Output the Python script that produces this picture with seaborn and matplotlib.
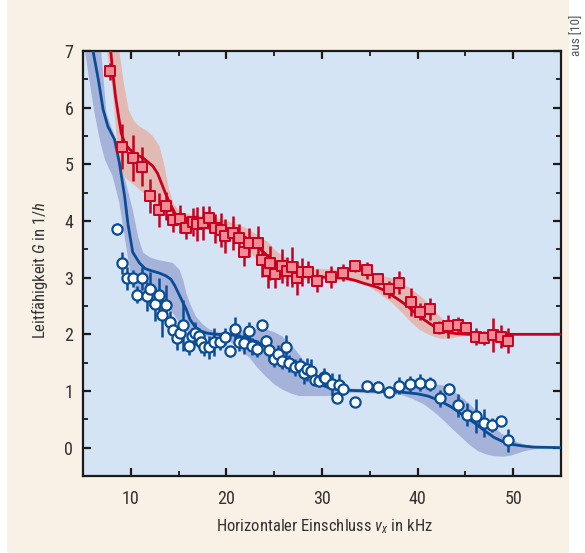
import numpy as np
import pandas as pd
import matplotlib
matplotlib.use("Agg")
import matplotlib.pyplot as plt
import seaborn as sns
from matplotlib import font_manager as fm
from matplotlib.patches import Rectangle

# ---------------- data ----------------
# red: measured squares (x in kHz, G, error)
red_x = [7.87, 9.1, 10.2, 11.2, 12.06, 12.9, 13.7, 14.4, 15.1, 15.8, 16.5, 16.95, 17.6, 18.2, 18.8,
         19.4, 19.9, 20.7, 21.3, 21.8, 22.4, 23.3, 23.7, 24.4, 24.6, 25.1, 25.8, 26.3, 26.9, 27.4,
         27.9, 28.5, 29.5, 30.9, 32.2, 33.5, 34.7, 35.9, 37.0, 38.1, 39.3, 40.3, 41.3, 42.2, 43.2,
         44.2, 45.1, 46.1, 46.9, 47.9, 48.7, 49.5]
red_y = [6.64, 5.31, 5.11, 4.96, 4.45, 4.20, 4.27, 4.01, 4.03, 3.88, 3.98, 3.94, 3.97, 4.06, 3.87,
         3.85, 3.73, 3.78, 3.70, 3.45, 3.62, 3.62, 3.32, 3.11, 3.26, 3.07, 3.20, 3.11, 3.19, 3.00,
         3.10, 3.10, 2.95, 3.01, 3.09, 3.20, 3.13, 2.97, 2.80, 2.91, 2.57, 2.40, 2.45, 2.12, 2.14,
         2.16, 2.12, 1.96, 1.94, 1.99, 1.96, 1.89]
red_err = [0.15, 0.40, 0.40, 0.35, 0.30, 0.30, 0.25, 0.20, 0.25, 0.20, 0.25, 0.30, 0.30, 0.20, 0.25,
           0.30, 0.30, 0.30, 0.25, 0.25, 0.25, 0.30, 0.30, 0.30, 0.30, 0.25, 0.30, 0.25, 0.35, 0.30,
           0.25, 0.20, 0.20, 0.20, 0.15, 0.10, 0.15, 0.10, 0.15, 0.20, 0.25, 0.15, 0.20, 0.12, 0.20,
           0.15, 0.10, 0.15, 0.12, 0.30, 0.20, 0.22]

# blue: measured circles
blue_x = [8.55, 9.1, 9.6, 10.2, 10.7, 11.2, 11.7, 12.06, 12.5, 12.9, 13.3, 13.7, 14.1, 14.4, 14.8,
          15.1, 15.5, 16.05, 16.4, 16.7, 17.1, 17.3, 17.7, 18.2, 18.7, 19.3, 19.9, 20.4, 20.9, 21.3,
          21.8, 22.4, 22.7, 23.2, 23.7, 24.1, 24.5, 25.0, 25.4, 25.8, 26.2, 26.6, 27.2, 27.7, 28.1,
          28.4, 28.8, 29.3, 29.7, 30.2, 30.3, 31.0, 31.8, 32.2, 31.6, 33.5, 34.7, 35.9, 37.0, 38.1,
          39.2, 40.3, 41.3, 42.3, 43.3, 44.2, 45.2, 46.1, 46.9, 47.8, 48.7, 49.5]
blue_y = [3.86, 3.26, 2.99, 2.99, 2.70, 2.99, 2.67, 2.80, 2.53, 2.69, 2.35, 2.52, 2.22, 2.07, 1.93,
          2.03, 2.16, 1.79, 1.97, 2.02, 1.97, 1.87, 1.77, 1.77, 1.86, 1.87, 1.96, 1.70, 2.10, 1.86,
          1.85, 2.06, 1.79, 1.75, 2.16, 1.88, 1.73, 1.57, 1.66, 1.53, 1.78, 1.49, 1.42, 1.44, 1.32,
          1.38, 1.36, 1.20, 1.17, 1.25, 1.23, 1.12, 1.10, 1.03, 0.88, 0.81, 1.08, 1.07, 0.98, 1.09,
          1.12, 1.15, 1.12, 0.87, 1.03, 0.75, 0.58, 0.56, 0.44, 0.40, 0.47, 0.13]
blue_err = [0.10, 0.20, 0.20, 0.15, 0.15, 0.20, 0.25, 0.30, 0.30, 0.30, 0.40, 0.35, 0.20, 0.20, 0.20,
            0.15, 0.45, 0.15, 0.15, 0.20, 0.15, 0.20, 0.15, 0.20, 0.25, 0.15, 0.15, 0.10, 0.20, 0.15,
            0.20, 0.15, 0.15, 0.15, 0.10, 0.10, 0.20, 0.15, 0.15, 0.15, 0.20, 0.15, 0.15, 0.15, 0.20,
            0.20, 0.20, 0.10, 0.10, 0.15, 0.10, 0.20, 0.20, 0.10, 0.10, 0.05, 0.10, 0.10, 0.10, 0.15,
            0.15, 0.15, 0.12, 0.15, 0.10, 0.20, 0.20, 0.30, 0.25, 0.12, 0.05, 0.20]

# red theory curve
red_curve_x = [7.6, 7.9, 8.1, 8.4, 8.66, 9.0, 9.4, 9.9, 10.5, 11.3, 12.3, 12.8, 13.2, 13.6, 13.9,
               14.3, 14.6, 15.0, 15.8, 16.5, 17.5, 18.5, 19.5, 20.5, 21.3, 22.0, 22.8, 23.7, 24.4,
               25.0, 25.7, 26.4, 27.2, 28.0, 29.0, 30.0, 31.4, 32.5, 33.5, 34.2, 35.0, 35.8, 36.6,
               37.4, 38.2, 39.0, 39.8, 40.5, 41.1, 41.8, 42.5, 43.3, 44.2, 45.3, 55.0]
red_curve_y = [7.4, 7.0, 6.64, 6.2, 5.91, 5.55, 5.36, 5.26, 5.18, 5.11, 4.97, 4.84, 4.67, 4.50, 4.38,
               4.24, 4.14, 4.06, 4.00, 3.97, 3.95, 3.94, 3.90, 3.84, 3.79, 3.71, 3.60, 3.48, 3.37,
               3.28, 3.20, 3.13, 3.07, 3.04, 3.02, 3.01, 3.00, 2.99, 2.95, 2.91, 2.87, 2.83, 2.77,
               2.68, 2.59, 2.49, 2.37, 2.28, 2.21, 2.13, 2.07, 2.03, 2.01, 2.00, 2.00]
# red uncertainty band
red_up_x = [7.6, 8.8, 9.3, 9.8, 10.4, 10.9, 11.6, 12.3, 13.0, 13.5, 14.0, 14.5, 15.1, 16.0, 17.0,
            18.0, 19.0, 20.0, 21.0, 22.0, 23.0, 24.4, 25.2, 26.2, 27.0, 27.9, 29.0, 30.5, 32.4,
            34.0, 35.9, 37.2, 38.3, 39.5, 40.7, 41.6, 42.5, 43.3, 44.2, 45.2, 46.0, 47.5, 48.5, 55.0]
red_up_y = [7.6, 7.0, 6.4, 5.95, 5.75, 5.67, 5.60, 5.50, 5.32, 5.00, 4.56, 4.30, 4.17, 4.12, 4.10,
            4.08, 4.05, 4.00, 3.95, 3.88, 3.78, 3.62, 3.47, 3.35, 3.26, 3.20, 3.16, 3.15, 3.14,
            3.12, 3.06, 2.99, 2.91, 2.78, 2.62, 2.45, 2.29, 2.17, 2.09, 2.05, 2.04, 2.02, 2.00, 2.00]
red_lo_x = [7.2, 7.6, 8.1, 8.5, 8.8, 9.5, 10.6, 11.6, 12.7, 13.4, 14.0, 15.0, 16.0, 17.0, 18.0,
            19.0, 20.0, 21.0, 22.0, 23.0, 24.1, 25.0, 26.0, 27.0, 28.0, 29.0, 30.5, 32.0, 33.5,
            34.8, 36.0, 37.3, 38.4, 39.4, 40.2, 41.1, 42.0, 42.5, 43.5, 44.6, 46.0, 47.5, 55.0]
red_lo_y = [7.4, 6.9, 6.32, 5.5, 4.9, 4.75, 4.6, 4.45, 4.26, 4.12, 4.03, 3.93, 3.88, 3.86, 3.84,
            3.80, 3.74, 3.65, 3.52, 3.35, 3.14, 3.03, 2.98, 2.96, 2.96, 2.96, 2.96, 2.95, 2.92,
            2.85, 2.72, 2.56, 2.38, 2.20, 2.08, 2.00, 1.94, 1.92, 1.93, 1.96, 1.99, 2.00, 2.00]

# blue theory curve
blue_curve_x = [5.9, 6.05, 6.6, 7.1, 7.6, 8.3, 8.8, 9.35, 9.7, 10.2, 10.9, 11.5, 12.0, 13.0, 13.7,
                14.2, 14.6, 15.0, 15.4, 15.8, 16.2, 16.7, 17.3, 18.0, 18.9, 19.9, 21.0, 22.0, 23.0,
                24.1, 25.2, 26.2, 27.2, 28.0, 28.8, 29.6, 30.5, 31.5, 33.1, 35.0, 36.5, 38.3, 40.0,
                41.1, 42.3, 43.5, 44.7, 46.0, 47.0, 48.0, 49.0, 49.8, 51.0, 52.2, 55.0]
blue_curve_y = [7.3, 7.0, 6.5, 5.97, 5.67, 5.44, 5.03, 4.44, 3.95, 3.45, 3.26, 3.16, 3.13, 3.08, 3.03,
                2.97, 2.86, 2.72, 2.58, 2.44, 2.26, 2.14, 2.06, 2.02, 2.00, 2.00, 1.98, 1.94, 1.88,
                1.79, 1.67, 1.55, 1.43, 1.34, 1.24, 1.14, 1.07, 1.03, 1.01, 1.00, 0.99, 0.98, 0.95,
                0.91, 0.83, 0.72, 0.58, 0.43, 0.30, 0.18, 0.10, 0.06, 0.03, 0.01, 0.00]
# blue uncertainty band
blue_up_x = [6.6, 6.9, 7.45, 8.3, 8.8, 9.5, 10.2, 10.8, 11.3, 12.0, 12.65, 13.5, 14.4, 15.1, 15.5,
             15.8, 16.3, 16.8, 17.5, 18.2, 19.2, 20.0, 21.0, 22.0, 23.0, 24.1, 25.0, 25.8, 26.5,
             27.2, 27.9, 28.6, 29.5, 30.3, 31.5, 33.1, 35.0, 36.5, 38.3, 40.0, 41.0, 41.8, 42.6,
             43.5, 44.4, 45.3, 46.2, 47.0, 47.8, 48.7, 49.6, 50.5, 51.5, 52.5, 55.0]
blue_up_y = [7.4, 7.0, 5.91, 5.50, 5.14, 4.67, 4.20, 3.70, 3.44, 3.36, 3.32, 3.29, 3.26, 3.14, 2.95,
             2.73, 2.50, 2.32, 2.18, 2.09, 2.03, 2.03, 2.05, 2.08, 2.10, 2.09, 2.04, 1.97, 1.86,
             1.73, 1.58, 1.44, 1.28, 1.20, 1.10, 1.04, 1.03, 1.03, 1.04, 1.08, 1.11, 1.12, 1.10,
             1.03, 0.92, 0.79, 0.64, 0.50, 0.38, 0.26, 0.16, 0.09, 0.04, 0.02, 0.00]
blue_lo_x = [5.0, 5.2, 5.7, 6.2, 6.8, 7.3, 8.1, 8.8, 9.35, 9.9, 10.3, 10.6, 11.3, 12.0, 13.0, 13.8,
             14.5, 15.2, 16.0, 17.0, 18.0, 19.0, 20.3, 21.3, 22.4, 23.2, 24.1, 25.0, 25.8, 26.7,
             27.6, 29.3, 30.4, 31.8, 33.1, 35.0, 36.5, 38.3, 39.5, 40.7, 41.8, 42.8, 43.7, 44.6,
             45.5, 46.3, 47.2, 48.0, 49.0, 49.8, 50.5, 51.2, 52.2, 53.3, 55.0]
blue_lo_y = [7.5, 7.0, 6.45, 5.91, 5.40, 5.08, 4.79, 4.32, 3.73, 3.14, 2.85, 2.65, 2.59, 2.60, 2.58,
             2.50, 2.35, 2.18, 2.05, 1.98, 1.96, 1.95, 1.88, 1.75, 1.59, 1.42, 1.26, 1.12, 1.03,
             0.96, 0.91, 0.91, 0.91, 0.93, 0.97, 0.96, 0.95, 0.93, 0.86, 0.76, 0.62, 0.47, 0.32,
             0.18, 0.04, -0.06, -0.12, -0.15, -0.16, -0.14, -0.10, -0.06, -0.03, -0.01, 0.00]

x_ticks = [10, 20, 30, 40, 50]
y_ticks = [0, 1, 2, 3, 4, 5, 6, 7]
x_label = r"Horizontaler Einschluss $v_x$ in kHz"
y_label = r"Leitfähigkeit $G$ in 1/$h$"
credit = "aus [10]"

# ---------------- fonts: prefer a condensed sans ----------------
entries = fm.fontManager.ttflist
names = {f.name for f in entries}
stretch = "normal"
if "Liberation Sans Narrow" in names:
    fam = "Liberation Sans Narrow"
elif "Roboto Condensed" in names:
    fam = "Roboto Condensed"
elif any(f.name == "DejaVu Sans" and str(f.stretch) in ("condensed", "semi-condensed")
         for f in entries):
    fam, stretch = "DejaVu Sans", "condensed"
elif "Roboto" in names:
    fam = "Roboto"
else:
    fam = "DejaVu Sans"
narrow = fam != "Roboto" and (stretch == "condensed" or "Narrow" in fam or "Condensed" in fam)
LBL = 12 if narrow else 11.5
TCK = 13 if narrow else 12.5

sns.set_theme(style="ticks")
plt.rcParams["font.family"] = [fam, "DejaVu Sans"]
plt.rcParams["font.stretch"] = stretch
plt.rcParams["mathtext.fontset"] = "custom"
plt.rcParams["mathtext.rm"] = f"{fam}:stretch={stretch}"
plt.rcParams["mathtext.it"] = f"{fam}:italic:stretch={stretch}"

CREAM = "#f9f0e6"
AX_BG = "#d4e4f4"
RED = "#c8001e"
RED_FACE = "#f08c96"
RED_BAND = "#e3b7ae"
BLUE = "#0a4c96"
BLUE_BAND = "#a5b3da"
TXT = "#333333"

fig = plt.figure(figsize=(5.85, 5.53), dpi=100)
fig.patch.set_facecolor("white")
fig.patches.append(Rectangle((7 / 585, 0), (569 - 7) / 585, 1, transform=fig.transFigure,
                             facecolor=CREAM, edgecolor="none", zorder=-10))
ax = fig.add_axes([83 / 585, 1 - 476 / 553, (561 - 83) / 585, (476 - 51) / 553])
ax.set_facecolor(AX_BG)

# bands
ax.fill(np.concatenate([blue_up_x, blue_lo_x[::-1]]),
        np.concatenate([blue_up_y, blue_lo_y[::-1]]),
        color=BLUE_BAND, lw=0, zorder=1)
ax.fill(np.concatenate([red_up_x, red_lo_x[::-1]]),
        np.concatenate([red_up_y, red_lo_y[::-1]]),
        color=RED_BAND, lw=0, zorder=1, alpha=0.92)

# theory curves
sns.lineplot(x=blue_curve_x, y=blue_curve_y, ax=ax, color=BLUE, lw=2.0, sort=False,
             estimator=None, zorder=3)
sns.lineplot(x=red_curve_x, y=red_curve_y, ax=ax, color=RED, lw=2.0, sort=False,
             estimator=None, zorder=3)

# error bars
ax.errorbar(blue_x, blue_y, yerr=blue_err, fmt="none", ecolor=BLUE, elinewidth=1.8,
            capsize=0, zorder=4)
ax.errorbar(red_x, red_y, yerr=red_err, fmt="none", ecolor=RED, elinewidth=1.8,
            capsize=0, zorder=4)

# markers
sns.scatterplot(x=blue_x, y=blue_y, ax=ax, marker="o", s=54, color="white",
                edgecolor=BLUE, linewidth=1.6, zorder=5)
sns.scatterplot(x=red_x, y=red_y, ax=ax, marker="s", s=62, color=RED_FACE,
                edgecolor=RED, linewidth=1.4, zorder=5)

ax.set_xlim(5, 55)
ax.set_ylim(-0.5, 7)
ax.set_xticks(x_ticks)
ax.set_xticks([15, 25, 35, 45], minor=True)
ax.set_yticks(y_ticks)
ax.set_yticks(np.arange(-0.5, 7, 1.0)[1:], minor=True)
ax.tick_params(axis="both", which="major", direction="in", length=6, width=1.6,
               top=True, right=True, labelsize=TCK, colors="#1a1a1a", labelcolor=TXT)
ax.tick_params(axis="x", which="major", pad=10)
ax.tick_params(axis="y", which="major", pad=7)
ax.tick_params(axis="both", which="minor", direction="in", length=3.5, width=1.4,
               top=True, right=True)
for s in ax.spines.values():
    s.set_linewidth(1.6)
    s.set_color("#1a1a1a")

ax.set_xlabel(x_label, fontsize=LBL, color=TXT)
ax.set_ylabel(y_label, fontsize=LBL, color=TXT)
ax.xaxis.set_label_coords((325 - 83) / 478, (476 - 517) / 425)
ax.yaxis.set_label_coords((50 - 83) / 478, (476 - 270) / 425)

fig.text(577 / 585, 1 - 35 / 553, credit, rotation=90, ha="center", va="center",
         fontsize=9.5, color="#555555")

fig.savefig("out.png", dpi=100, facecolor=fig.get_facecolor())
